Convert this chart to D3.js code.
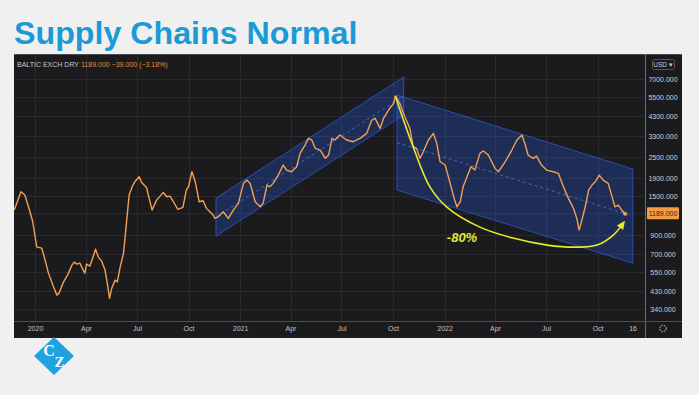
<!DOCTYPE html>
<html>
<head>
<meta charset="utf-8">
<script src="https://cdn.jsdelivr.net/npm/d3@7"></script>
<style>
  body { margin: 0; background: #f0f0f0; }
  svg { display: block; font-family: "Liberation Sans", Arial, sans-serif; }
</style>
</head>
<body>
<svg id="chart" width="699" height="395"></svg>
<script>
// Baltic Dry Index
const dates = [
  "2019-11-25","2019-12-07","2019-12-14","2019-12-23","2019-12-28",
  "2020-01-04","2020-01-13","2020-01-19","2020-01-25","2020-02-03","2020-02-09","2020-02-13","2020-02-21","2020-02-29",
  "2020-03-07","2020-03-11","2020-03-16","2020-03-21","2020-03-27","2020-03-30","2020-04-02","2020-04-08","2020-04-13",
  "2020-04-18","2020-04-23","2020-04-29","2020-05-05","2020-05-09","2020-05-13","2020-05-17","2020-05-23","2020-05-27",
  "2020-06-01","2020-06-07","2020-06-11","2020-06-17","2020-06-23","2020-06-27","2020-07-05","2020-07-09","2020-07-18",
  "2020-07-22","2020-07-28","2020-08-05","2020-08-17","2020-08-23","2020-08-29","2020-09-04","2020-09-12","2020-09-21",
  "2020-09-27","2020-10-01","2020-10-07","2020-10-13","2020-10-20","2020-10-27","2020-11-02","2020-11-08","2020-11-14",
  "2020-11-17","2020-11-23","2020-12-02","2020-12-11","2020-12-20","2020-12-29",
  "2021-01-07","2021-01-13","2021-01-19","2021-01-28","2021-02-06","2021-02-11","2021-02-18","2021-02-23","2021-03-01",
  "2021-03-10","2021-03-19","2021-03-25","2021-04-03","2021-04-12","2021-04-18","2021-04-27","2021-05-03","2021-05-09",
  "2021-05-15","2021-05-24","2021-06-02","2021-06-08","2021-06-14","2021-06-19","2021-06-28","2021-07-10","2021-07-22",
  "2021-08-03","2021-08-15","2021-08-24","2021-08-30","2021-09-08","2021-09-14","2021-09-23","2021-10-02","2021-10-05",
  "2021-10-13","2021-10-22","2021-10-31","2021-11-06","2021-11-12","2021-11-18","2021-11-24","2021-12-03","2021-12-12",
  "2021-12-18","2021-12-24",
  "2022-01-02","2022-01-11","2022-01-18","2022-01-23","2022-01-29","2022-02-03","2022-02-09","2022-02-17","2022-02-24",
  "2022-03-05","2022-03-11","2022-03-20","2022-04-01","2022-04-07","2022-04-19","2022-05-01","2022-05-10","2022-05-19",
  "2022-05-25","2022-05-30","2022-06-08","2022-06-14","2022-06-23","2022-07-02","2022-07-14","2022-07-23","2022-08-01",
  "2022-08-10","2022-08-19","2022-08-25","2022-08-29","2022-09-03","2022-09-09","2022-09-15","2022-09-21","2022-09-27",
  "2022-10-04","2022-10-11","2022-10-20","2022-10-26","2022-11-01","2022-11-07","2022-11-13","2022-11-19"
];
const values = [
  1249,1589,1521,1221,1071,
  770,757,647,545,455,408,419,486,538,
  606,630,614,622,567,545,614,598,664,
  747,673,638,567,478,391,447,497,486,
  592,709,960,1521,1712,1813,1935,1798,1683,
  1487,1249,1424,1576,1487,1501,1393,1260,1294,
  1624,1697,2067,1813,1393,1411,1277,1221,1169,
  1119,1143,1221,1119,1249,1364,
  1774,1853,1774,1393,1304,1364,1735,1697,1774,
  1979,2258,2113,2067,2208,2633,2937,3208,3137,
  2812,2750,2465,2575,3208,3137,3350,3137,3067,
  3208,3425,4081,4173,3658,4173,4655,5083,5597,
  5083,4262,3658,2872,2812,2465,2689,3137,3425,
  3003,2357,
  2258,1774,1457,1304,1393,1697,1895,2208,2113,
  2633,2714,2575,2161,2067,2357,2750,3137,3350,
  2937,2575,2465,2541,2258,2113,2067,2024,1697,
  1457,1277,1119,960,1095,1304,1624,1735,1813,
  1979,1853,1774,1521,1304,1334,1249,1189
];

const priceTicks = [340, 430, 550, 700, 900, 1200, 1500, 1900, 2500, 3300, 4300, 5500, 7000];
const timeTicks = ["2020-01-01","2020-04-01","2020-07-01","2020-10-01","2021-01-01","2021-04-01",
                   "2021-07-01","2021-10-01","2022-01-01","2022-04-01","2022-07-01","2022-10-01"];

// parallel channels: [start, end] dates, upper / lower prices at each end
const riseDates = ["2020-11-19", "2021-10-20"];
const riseUpper = [1462, 7186];
const riseLower = [887, 4359];
const fallDates = ["2021-10-08", "2022-12-03"];
const fallUpper = [5670, 2141];
const fallLower = [1624, 622];

// yellow "-80%" arrow
const dropDates = ["2021-10-05","2021-11-06","2021-12-06","2022-01-05","2022-03-05","2022-05-03",
                   "2022-07-03","2022-08-25","2022-09-30","2022-10-29","2022-11-16"];
const dropValues = [5597, 2861, 1690, 1299, 998, 864, 788, 767, 788, 899, 1052];

const lastPrice = 1189, lastChange = -39, lastPct = -3.18;

const svg = d3.select("#chart");
const pLeft = 14, pRight = 645, pTop = 54, pBottom = 321, panelRight = 682, panelBottom = 338;

const x = d3.scaleUtc()
  .domain([new Date("2020-01-01"), new Date("2022-01-01")])
  .range([35, 444.6]);
const y = d3.scaleLog()
  .domain([340, 7000])
  .range([309, 79]);

// title
svg.append("text")
  .attr("x", 14).attr("y", 44)
  .style("font-size", "32.2px").style("font-weight", "bold")
  .style("fill", "#1b9ad7")
  .text("Supply Chains Normal");

// panel
svg.append("rect")
  .attr("x", pLeft).attr("y", pTop)
  .attr("width", panelRight - pLeft).attr("height", panelBottom - pTop)
  .attr("fill", "#1b1b1e");
svg.append("line").attr("x1", pLeft).attr("x2", panelRight).attr("y1", pTop + 0.5).attr("y2", pTop + 0.5)
  .attr("stroke", "#4a4a4e");

const defs = svg.append("defs");
defs.append("clipPath").attr("id", "plot")
  .append("rect").attr("x", pLeft).attr("y", pTop + 1).attr("width", pRight - pLeft).attr("height", pBottom - pTop - 1);
defs.append("marker").attr("id", "arrow")
  .attr("viewBox", "0 0 10 10").attr("refX", 6).attr("refY", 5)
  .attr("markerWidth", 6).attr("markerHeight", 6).attr("orient", "auto")
  .append("path").attr("d", "M0,1 L9,5 L0,9 z").attr("fill", "#e4ee2c");

// grid
const grid = svg.append("g").attr("clip-path", "url(#plot)");
grid.selectAll(".vg").data(timeTicks).enter().append("line")
  .attr("x1", d => Math.round(x(new Date(d))) + 0.5).attr("x2", d => Math.round(x(new Date(d))) + 0.5)
  .attr("y1", pTop).attr("y2", pBottom)
  .attr("stroke", "#2a2a2e");
grid.selectAll(".hg").data(priceTicks).enter().append("line")
  .attr("x1", pLeft).attr("x2", pRight)
  .attr("y1", d => Math.round(y(d)) + 0.5).attr("y2", d => Math.round(y(d)) + 0.5)
  .attr("stroke", "#2a2a2e");

const plot = svg.append("g").attr("clip-path", "url(#plot)");

function draw_channel(ds, up, lo) {
  const x0 = x(new Date(ds[0])), x1 = x(new Date(ds[1]));
  plot.append("path")
    .attr("d", `M${x0},${y(up[0])} L${x1},${y(up[1])} L${x1},${y(lo[1])} L${x0},${y(lo[0])} Z`)
    .attr("fill", "rgba(41,98,255,0.25)")
    .attr("stroke", "#2f5bd8").attr("stroke-opacity", 0.75).attr("stroke-width", 1);
  const mid0 = Math.sqrt(up[0] * lo[0]), mid1 = Math.sqrt(up[1] * lo[1]);
  plot.append("line")
    .attr("x1", x0).attr("y1", y(mid0)).attr("x2", x1).attr("y2", y(mid1))
    .attr("stroke", "#5a7fe6").attr("stroke-opacity", 0.7)
    .attr("stroke-dasharray", "3,3").attr("stroke-width", 1);
}
draw_channel(riseDates, riseUpper, riseLower);
draw_channel(fallDates, fallUpper, fallLower);

// series
const series = dates.map((d, i) => ({ date: new Date(d), value: values[i] }));
plot.append("path")
  .datum(series)
  .attr("d", d3.line().x(d => x(d.date)).y(d => y(d.value)))
  .attr("fill", "none")
  .attr("stroke", "#f2a152")
  .attr("stroke-width", 1.4)
  .attr("stroke-linejoin", "round");
const last = series[series.length - 1];
plot.append("circle")
  .attr("cx", x(last.date)).attr("cy", y(last.value)).attr("r", 2)
  .attr("fill", "#f2a152");

// drop annotation
const drop = dropDates.map((d, i) => ({ date: new Date(d), value: dropValues[i] }));
plot.append("path")
  .datum(drop)
  .attr("d", d3.line().x(d => x(d.date)).y(d => y(d.value)).curve(d3.curveCatmullRom.alpha(0.5)))
  .attr("fill", "none")
  .attr("stroke", "#e4ee2c")
  .attr("stroke-width", 1.6)
  .attr("marker-end", "url(#arrow)");
svg.append("text")
  .attr("x", x(new Date("2022-01-05"))).attr("y", y(820))
  .style("font-size", "13px").style("font-weight", "bold").style("font-style", "italic")
  .style("fill", "#e4ee2c")
  .text("-80%");

// separators
svg.append("line").attr("x1", pRight + 0.5).attr("x2", pRight + 0.5).attr("y1", pTop).attr("y2", panelBottom)
  .attr("stroke", "#6a6a6e");
svg.append("line").attr("x1", pLeft).attr("x2", panelRight).attr("y1", pBottom + 0.5).attr("y2", pBottom + 0.5)
  .attr("stroke", "#4e4e52");

// price axis
const yAxis = svg.append("g")
  .attr("transform", `translate(${pRight},0)`)
  .call(d3.axisRight(y).tickValues(priceTicks).tickSize(0).tickFormat(d => d.toFixed(3)));
yAxis.select(".domain").remove();
yAxis.selectAll("text")
  .attr("x", 18).style("text-anchor", "middle")
  .style("font-size", "7px").style("fill", "#d0d0d2")
  .style("font-family", "'Liberation Sans', Arial, sans-serif");

// last price label
svg.append("rect")
  .attr("x", 647).attr("y", y(lastPrice) - 6.5).attr("width", 32).attr("height", 12)
  .attr("rx", 1).attr("fill", "#f39d45");
svg.append("text")
  .attr("x", 663).attr("y", y(lastPrice)).attr("dy", "0.35em")
  .style("text-anchor", "middle").style("font-size", "7px").style("fill", "#3b2410")
  .text(lastPrice.toFixed(3));

// currency box
svg.append("rect").attr("x", 652.5).attr("y", 59.5).attr("width", 22).attr("height", 10).attr("rx", 2)
  .attr("fill", "none").attr("stroke", "#555559");
svg.append("text").attr("x", 663).attr("y", 67).style("text-anchor", "middle")
  .style("font-size", "6.5px").style("fill", "#c9c9cc").text("USD \u25BE");

// time axis
const xAxis = svg.append("g")
  .attr("transform", `translate(0,${pBottom})`)
  .call(d3.axisBottom(x)
    .tickValues(timeTicks.map(d => new Date(d)))
    .tickSize(0).tickPadding(5)
    .tickFormat(d => d.getUTCMonth() === 0 ? d.getUTCFullYear() : d3.utcFormat("%b")(d)));
xAxis.select(".domain").remove();
xAxis.selectAll("text")
  .style("font-size", "7px").style("fill", "#c4c4c7")
  .style("font-family", "'Liberation Sans', Arial, sans-serif");
svg.append("text").attr("x", 637).attr("y", 331).style("text-anchor", "end")
  .style("font-size", "7px").style("fill", "#c4c4c7").text("16");

// settings gear
svg.append("circle").attr("cx", 663).attr("cy", 328.5).attr("r", 3.2)
  .attr("fill", "none").attr("stroke", "#8a8a8e").attr("stroke-width", 1.4)
  .attr("stroke-dasharray", "1.6,1");

// legend
svg.append("text").attr("x", 17).attr("y", 67)
  .style("font-size", "7px").style("fill", "#c9c9cc").text("BALTIC EXCH DRY");
svg.append("text").attr("x", 81).attr("y", 67)
  .style("font-size", "7px").style("fill", "#e08a3e")
  .text(`${lastPrice.toFixed(3)}  \u2212${Math.abs(lastChange).toFixed(3)} (\u2212${Math.abs(lastPct).toFixed(2)}%)`);

// logo
const logo = svg.append("g").attr("transform", "translate(54,356)");
logo.append("path").attr("d", "M0,-19 L20,0 L0,19 L-20,0 Z").attr("fill", "#1fa3e0");
logo.append("text").attr("x", -5).attr("y", 0).style("text-anchor", "middle")
  .style("font-family", "'Liberation Serif', 'DejaVu Serif', serif").style("font-size", "16px")
  .style("font-weight", "bold").style("fill", "#ffffff").text("C");
logo.append("text").attr("x", 5.5).attr("y", 11).style("text-anchor", "middle")
  .style("font-family", "'Liberation Serif', 'DejaVu Serif', serif").style("font-size", "15px")
  .style("font-weight", "bold").style("fill", "#ffffff").text("Z");
</script>
</body>
</html>
